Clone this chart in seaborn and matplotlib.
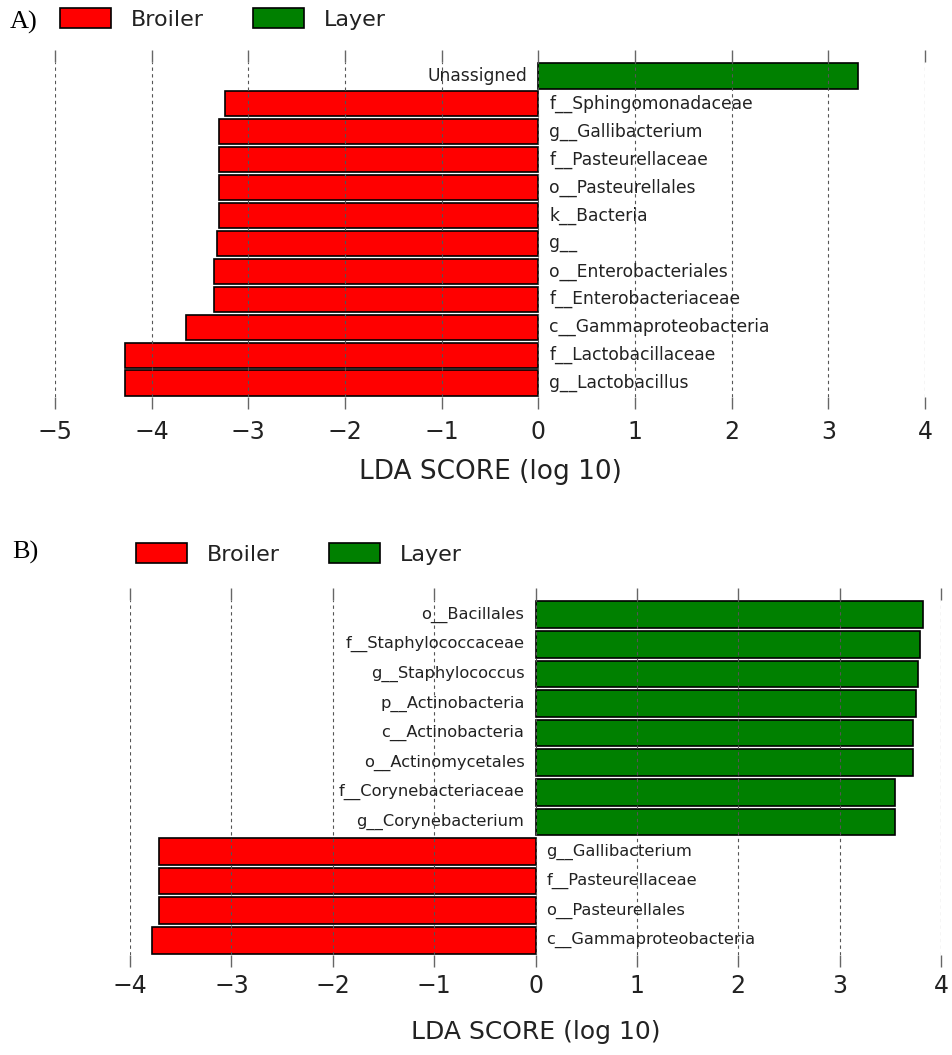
import matplotlib
matplotlib.use("Agg")
import matplotlib.pyplot as plt
import seaborn as sns
import pandas as pd
from matplotlib.patches import Patch

# ---- data ----
labels_a = ["Unassigned", "f__Sphingomonadaceae", "g__Gallibacterium", "f__Pasteurellaceae",
            "o__Pasteurellales", "k__Bacteria", "g__", "o__Enterobacteriales",
            "f__Enterobacteriaceae", "c__Gammaproteobacteria", "f__Lactobacillaceae",
            "g__Lactobacillus"]
scores_a = [3.31, -3.24, -3.30, -3.30, -3.30, -3.30, -3.32, -3.36, -3.36, -3.65, -4.28, -4.28]

labels_b = ["o__Bacillales", "f__Staphylococcaceae", "g__Staphylococcus", "p__Actinobacteria",
            "c__Actinobacteria", "o__Actinomycetales", "f__Corynebacteriaceae",
            "g__Corynebacterium", "g__Gallibacterium", "f__Pasteurellaceae",
            "o__Pasteurellales", "c__Gammaproteobacteria"]
scores_b = [3.82, 3.79, 3.77, 3.75, 3.72, 3.72, 3.55, 3.55, -3.71, -3.71, -3.71, -3.78]

ticks_a = [-5, -4, -3, -2, -1, 0, 1, 2, 3, 4]
ticks_b = [-4, -3, -2, -1, 0, 1, 2, 3, 4]
classes = ["Broiler", "Layer"]
class_colors = ["#FF0000", "#008000"]

sns.set_style("white")
plt.rcParams['font.family'] = ['DejaVu Sans']
TXT = "#222222"

fig = plt.figure(figsize=(9.53, 10.55), dpi=100)
W, H = 953.0, 1055.0


def panel(px_left, px_right, px_top, px_bottom, labels, scores, ticks,
          label_fs, tick_fs, tick_pad, xlab_fs, labelpad, leg_x, leg_y, leg_fs, tag, tag_xy):
    ax = fig.add_axes([px_left / W, 1 - px_bottom / H,
                       (px_right - px_left) / W, (px_bottom - px_top) / H])
    df = pd.DataFrame({"feature": labels, "lda": scores,
                       "cls": ["Layer" if s > 0 else "Broiler" for s in scores]})
    sns.barplot(data=df, x="lda", y="feature", hue="cls", hue_order=classes,
                palette=dict(zip(classes, class_colors)), dodge=False, orient="h",
                width=0.9, edgecolor="black", linewidth=1.2, saturation=1,
                legend=False, ax=ax)
    ax.set_ylim(len(labels) - 0.5, -0.5)
    ax.set_xlim(ticks[0], ticks[-1])
    ax.set_xticks(ticks)
    ax.set_xticklabels([("\u2212%d" % -t) if t < 0 else str(t) for t in ticks])
    ax.set_yticks([])
    ax.set_ylabel("")
    for sp in ax.spines.values():
        sp.set_visible(False)
    ax.tick_params(axis="x", which="both", top=True, bottom=True, direction="out",
                   length=8.5, width=1, color="#666666", labelsize=tick_fs, pad=tick_pad,
                   labelcolor=TXT)
    ax.grid(axis="x", linestyle=(0, (3, 3)), color="#555555", linewidth=0.8)
    ax.set_axisbelow(False)
    ax.set_xlabel("LDA SCORE (log 10)", fontsize=xlab_fs, color=TXT, labelpad=labelpad)
    for i, (lab, s) in enumerate(zip(labels, scores)):
        ax.annotate(lab, xy=(0, i), xytext=(-8 if s > 0 else 8, 0),
                    textcoords="offset points", ha="right" if s > 0 else "left",
                    va="center", fontsize=label_fs, color=TXT)
    handles = [Patch(facecolor=c, edgecolor="black", linewidth=1.2, label=l)
               for l, c in zip(classes, class_colors)]
    fig.legend(handles=handles, loc="upper left", bbox_to_anchor=(leg_x / W, 1 - leg_y / H),
               bbox_transform=fig.transFigure, ncol=2, frameon=False, fontsize=leg_fs,
               handlelength=2.3, handleheight=1.0, handletextpad=0.9, columnspacing=2.2,
               borderpad=0, borderaxespad=0, labelcolor=TXT)
    fig.text(tag_xy[0] / W, 1 - tag_xy[1] / H, tag, family="Liberation Serif",
             fontsize=19, va="center", ha="left", color="black")
    return ax


panel(55, 925, 62, 397, labels_a, scores_a, ticks_a, 12.3, 17, 8, 19, 11,
      60, 8, 16, "A)", (10, 22))
panel(130, 941, 600, 955, labels_b, scores_b, ticks_b, 11.7, 17, 5, 18, 16,
      136, 543, 16, "B)", (12, 552))

fig.savefig("out.png", dpi=100)
